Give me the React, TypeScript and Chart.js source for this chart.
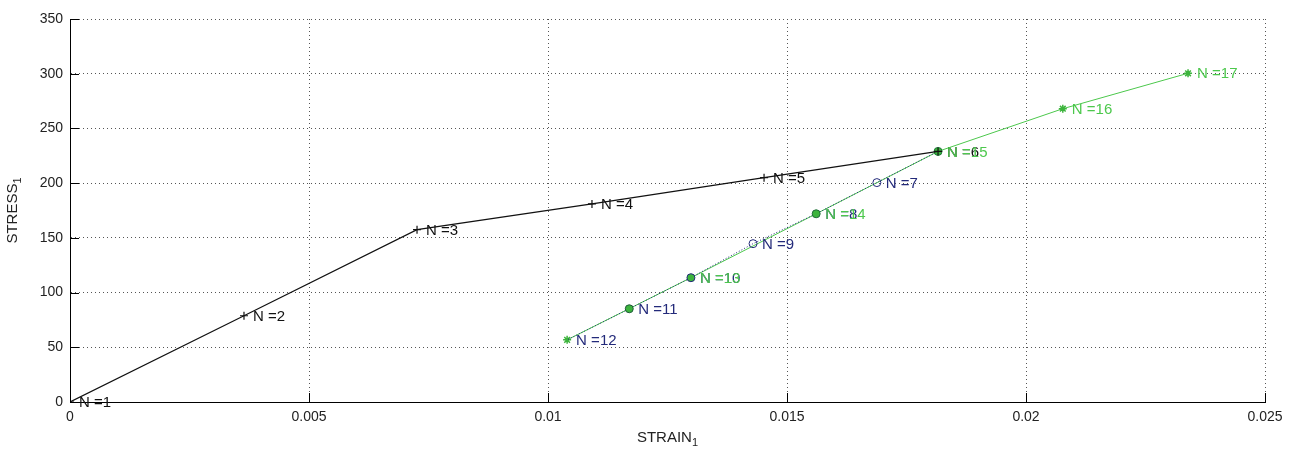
import React, { useEffect, useRef } from "react";
import { Chart, registerables } from "chart.js";

Chart.register(...registerables);

// ---- data ----
const blackStrain = [0, 0.00364, 0.00726, 0.01092, 0.01452, 0.01816];
const blackStress = [0, 78.8, 157.5, 181, 205, 229];
const blackN = [1, 2, 3, 4, 5, 6];

const navyStrain = [0.01816, 0.01688, 0.01561, 0.01429, 0.01299, 0.0117, 0.0104];
const navyStress = [229, 200.5, 172, 144.7, 113.6, 85.2, 56.8];
const navyN = [6, 7, 8, 9, 10, 11, 12];

const greenStrain = [0.0104, 0.01299, 0.01561, 0.01816, 0.02077, 0.02339];
const greenStress = [56.8, 113.6, 172, 229, 268, 300.4];
const greenN = [12, 13, 14, 15, 16, 17];

const xTicks = [0, 0.005, 0.01, 0.015, 0.02, 0.025];
const yTicks = [0, 50, 100, 150, 200, 250, 300, 350];

const xTitle = "STRAIN";
const yTitle = "STRESS";
const titleSub = "1";

const FONT = "'Liberation Sans', Arial, sans-serif";
const BLACK = "#111111";
const NAVY = "#232a7a";
const GREEN = "#4cc84c";
const GREEN_FILL = "#3cb43c";

const toPts = (xs: number[], ys: number[]) => xs.map((x, i) => ({ x, y: ys[i] }));

export default function App() {
  const ref = useRef<HTMLCanvasElement | null>(null);

  useEffect(() => {
    document.body.style.margin = "0";
    const canvas = ref.current;
    if (!canvas) return;

    const labelGroups = [
      { xs: blackStrain, ys: blackStress, ns: blackN, color: BLACK },
      { xs: navyStrain.slice(1), ys: navyStress.slice(1), ns: navyN.slice(1), color: NAVY },
      { xs: greenStrain.slice(1), ys: greenStress.slice(1), ns: greenN.slice(1), color: GREEN },
    ];

    const overlay = {
      id: "overlay",
      afterDraw(chart: any) {
        const ctx = chart.ctx as CanvasRenderingContext2D;
        const xs = chart.scales.x;
        const ys = chart.scales.y;
        const area = chart.chartArea;
        ctx.save();
        // inside ticks
        ctx.strokeStyle = "#000";
        ctx.lineWidth = 1;
        ctx.setLineDash([]);
        ctx.beginPath();
        xTicks.forEach((t) => {
          const px = Math.round(xs.getPixelForValue(t)) + 0.5;
          ctx.moveTo(px, area.bottom);
          ctx.lineTo(px, area.bottom - 9);
        });
        yTicks.forEach((t) => {
          const py = Math.round(ys.getPixelForValue(t)) + 0.5;
          ctx.moveTo(area.left, py);
          ctx.lineTo(area.left + 9, py);
        });
        ctx.stroke();

        // point labels
        ctx.font = `15px ${FONT}`;
        ctx.textAlign = "left";
        ctx.textBaseline = "middle";
        labelGroups.forEach((g) => {
          ctx.fillStyle = g.color;
          g.ns.forEach((n, i) => {
            const px = xs.getPixelForValue(g.xs[i]);
            const py = ys.getPixelForValue(g.ys[i]);
            ctx.fillText(`N =${n}`, px + 9, py + 1);
          });
        });

        // axis titles with subscripts
        ctx.fillStyle = "#222";
        const cx = (area.left + area.right) / 2;
        ctx.font = `15px ${FONT}`;
        const w1 = ctx.measureText(xTitle).width;
        ctx.font = `11px ${FONT}`;
        const w2 = ctx.measureText(titleSub).width;
        const total = w1 + w2;
        ctx.textAlign = "left";
        ctx.textBaseline = "alphabetic";
        ctx.font = `15px ${FONT}`;
        ctx.fillText(xTitle, cx - total / 2, 442);
        ctx.font = `11px ${FONT}`;
        ctx.fillText(titleSub, cx - total / 2 + w1, 446);

        const cy = (area.top + area.bottom) / 2;
        ctx.font = `15px ${FONT}`;
        const h1 = ctx.measureText(yTitle).width;
        const ytotal = h1 + w2;
        ctx.translate(17, cy);
        ctx.rotate(-Math.PI / 2);
        ctx.fillText(yTitle, -ytotal / 2, 0);
        ctx.font = `11px ${FONT}`;
        ctx.fillText(titleSub, -ytotal / 2 + h1, 4);
        ctx.restore();
      },
    };

    const chart = new Chart(canvas, {
      type: "scatter",
      data: {
        datasets: [
          {
            label: "loading",
            data: toPts(blackStrain, blackStress),
            showLine: true,
            borderColor: BLACK,
            borderWidth: 1.2,
            pointStyle: "cross",
            pointRadius: 4,
            pointBorderColor: BLACK,
            pointBorderWidth: 1.2,
            order: 1,
          },
          {
            label: "unloading",
            data: toPts(navyStrain, navyStress),
            showLine: true,
            borderColor: NAVY,
            borderWidth: 1,
            borderDash: [1, 2],
            pointStyle: "circle",
            pointRadius: [4, 4, 4, 4, 4, 4, 0],
            pointBackgroundColor: [GREEN_FILL, "rgba(255,255,255,0)", GREEN_FILL, "rgba(255,255,255,0)", GREEN_FILL, GREEN_FILL, GREEN_FILL],
            pointBorderColor: ["#1f7a3a", NAVY, "#1f6a3a", NAVY, NAVY, "#1f5a3a", NAVY],
            pointBorderWidth: 1,
            order: 2,
          },
          {
            label: "reloading",
            data: toPts(greenStrain, greenStress),
            showLine: true,
            borderColor: GREEN,
            borderWidth: 1,
            pointStyle: "star",
            pointRadius: [4, 0, 0, 0, 4, 4],
            pointBorderColor: GREEN_FILL,
            pointBorderWidth: 1.5,
            order: 3,
          },
        ],
      },
      options: {
        animation: false,
        responsive: false,
        devicePixelRatio: 1,
        layout: { padding: { top: 19, right: 36, left: 0, bottom: 0 } },
        plugins: { legend: { display: false }, tooltip: { enabled: false } },
        scales: {
          x: {
            type: "linear",
            min: 0,
            max: 0.025,
            afterFit: (s: any) => {
              s.height = 50;
            },
            afterBuildTicks: (s: any) => {
              s.ticks = xTicks.map((v) => ({ value: v }));
            },
            ticks: {
              padding: 7,
              color: "#222",
              font: { family: FONT, size: 14 },
              callback: (v: any) => String(Number(Number(v).toFixed(4))),
              maxRotation: 0,
            },
            grid: { color: "#555", lineWidth: 1, drawTicks: false, tickLength: 0 },
            border: { display: true, color: "#000", width: 1, dash: [1, 3] },
          },
          y: {
            type: "linear",
            min: 0,
            max: 350,
            afterFit: (s: any) => {
              s.width = 70;
            },
            afterBuildTicks: (s: any) => {
              s.ticks = yTicks.map((v) => ({ value: v }));
            },
            ticks: {
              padding: 7,
              color: "#222",
              font: { family: FONT, size: 14 },
            },
            grid: { color: "#555", lineWidth: 1, drawTicks: false, tickLength: 0 },
            border: { display: true, color: "#000", width: 1, dash: [1, 3] },
          },
        },
      },
      plugins: [overlay],
    });

    return () => chart.destroy();
  }, []);

  return (
    <div style={{ width: 1301, height: 452, background: "#fff" }}>
      <canvas ref={ref} width={1301} height={452} />
    </div>
  );
}
